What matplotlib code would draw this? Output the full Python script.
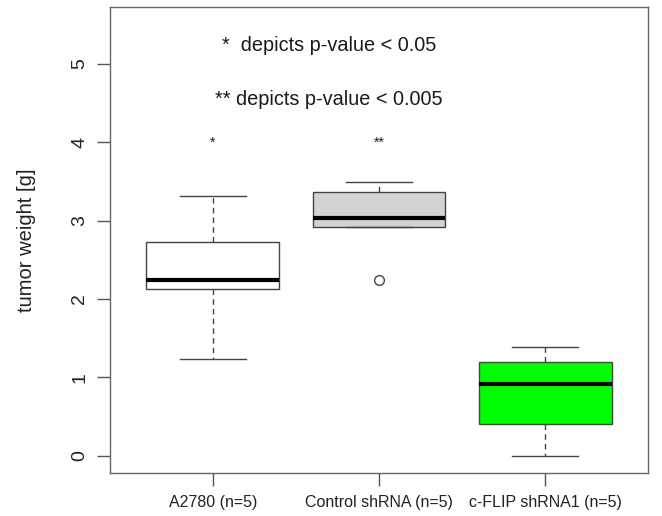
import matplotlib.pyplot as plt

# Data (five-number summaries, n=5 per group)
groups = ['A2780 (n=5)', 'Control shRNA (n=5)', 'c-FLIP shRNA1 (n=5)']
whisker_low = [1.23, 2.92, 0.00]
box_low = [2.13, 2.92, 0.40]
medians = [2.245, 3.04, 0.915]
box_high = [2.73, 3.36, 1.20]
whisker_high = [3.31, 3.49, 1.39]
outliers = [[], [2.245], []]
box_colors = ['white', '#D3D3D3', '#00FF00']
stars = ['*', '**', '']
star_y = 4.0
y_ticks = [0, 1, 2, 3, 4, 5]

plt.rcParams['font.family'] = ['Liberation Sans', 'DejaVu Sans']

fig = plt.figure(figsize=(6.62, 5.16), dpi=100)
ax = fig.add_axes([0.166, 0.0833, 0.813, 0.9022])

stats = []
for i, name in enumerate(groups):
    stats.append({
        'label': name,
        'whislo': whisker_low[i],
        'q1': box_low[i],
        'med': medians[i],
        'q3': box_high[i],
        'whishi': whisker_high[i],
        'fliers': outliers[i],
    })

edge = '#444444'
bp = ax.bxp(stats, positions=[1, 2, 3], widths=0.8, patch_artist=True,
            boxprops=dict(edgecolor=edge, linewidth=1.0),
            medianprops=dict(color='black', linewidth=3),
            whiskerprops=dict(color=edge, linewidth=1.0, linestyle=(0, (4, 3))),
            capprops=dict(color=edge, linewidth=1.0),
            capwidths=0.4,
            flierprops=dict(marker='o', markerfacecolor='none', markeredgecolor=edge,
                            markersize=7, markeredgewidth=1.0))
for patch, c in zip(bp['boxes'], box_colors):
    patch.set_facecolor(c)

# significance stars
for i, s in enumerate(stars):
    if s:
        ax.text(i + 1, star_y, s, ha='center', va='center', fontsize=10, color='#222222')

ax.text(1.7, 5.24, '*  depicts p-value < 0.05', ha='center', va='center',
        fontsize=14.3, color='#1a1a1a')
ax.text(1.7, 4.54, '** depicts p-value < 0.005', ha='center', va='center',
        fontsize=14.3, color='#1a1a1a')

ax.set_xlim(0.38, 3.62)
ax.set_ylim(-0.22, 5.72)
ax.set_yticks(y_ticks)
ax.set_yticklabels([str(t) for t in y_ticks], rotation=90, va='center')
ax.set_xticks([1, 2, 3])
ax.set_xticklabels(groups)
ax.tick_params(axis='both', direction='out', length=9.5, width=1.0, colors='#555555',
               labelcolor='#222222', pad=6)
ax.tick_params(axis='x', labelsize=11.5)
ax.tick_params(axis='y', labelsize=14)
for sp in ax.spines.values():
    sp.set_color('#666666')
    sp.set_linewidth(1.0)

ax.set_ylabel('tumor weight [g]', fontsize=14.5, color='#222222')
ax.yaxis.set_label_coords(-0.138, 0.5)

fig.savefig('out.png', dpi=100)
